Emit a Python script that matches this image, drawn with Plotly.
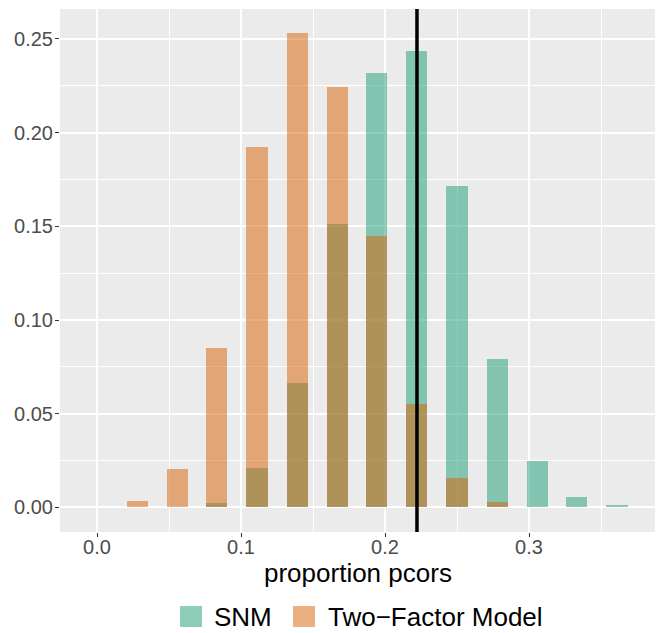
import plotly.graph_objects as go

# ---- data ----
bin_centers = [0.0, 0.0278, 0.0556, 0.0833, 0.1111, 0.1389, 0.1667,
               0.1944, 0.2222, 0.25, 0.2778, 0.3056, 0.3333, 0.3611]
snm = [0.0, 0.0, 0.0, 0.0024, 0.0211, 0.0664, 0.1513,
       0.2319, 0.2436, 0.1716, 0.0791, 0.0248, 0.0056, 0.0013]
two_factor = [0.0005, 0.0035, 0.0207, 0.0851, 0.1922, 0.2532, 0.2244,
              0.1449, 0.0552, 0.0157, 0.0029, 0.0005, 0.0002, 0.0]
observed_value = 0.2222
x_ticks = [0.0, 0.1, 0.2, 0.3]
x_tick_labels = ["0.0", "0.1", "0.2", "0.3"]
y_ticks = [0.0, 0.05, 0.10, 0.15, 0.20, 0.25]
y_tick_labels = ["0.00", "0.05", "0.10", "0.15", "0.20", "0.25"]
series_names = ["SNM", "Two\u2212Factor Model"]

GREEN = "rgba(27,158,119,0.5)"
ORANGE = "rgba(217,95,2,0.5)"
BAR_W = 0.0146
FONT = "Liberation Sans, Arial, sans-serif"

fig = go.Figure()
fig.add_trace(go.Bar(x=bin_centers, y=snm, width=BAR_W, name=series_names[0],
                     marker=dict(color=GREEN, line=dict(width=0)), showlegend=False))
fig.add_trace(go.Bar(x=bin_centers, y=two_factor, width=BAR_W, name=series_names[1],
                     marker=dict(color=ORANGE, line=dict(width=0)), showlegend=False))

fig.add_shape(type="line", xref="x", yref="paper", x0=observed_value, x1=observed_value,
              y0=0, y1=1, line=dict(color="black", width=3.5))

# panel geometry in px: x 60..655, y 9..532
PW, PH = 595.0, 523.0
def px2x(px):
    return (px - 60) / PW
def py2y(py):
    return (532 - py) / PH

# manual legend
keys = [(180, 202, GREEN, 212, series_names[0]), (293, 315, ORANGE, 326, series_names[1])]
for x0, x1, col, tx, label in keys:
    fig.add_shape(type="rect", xref="paper", yref="paper",
                  x0=px2x(x0), x1=px2x(x1), y0=py2y(627), y1=py2y(606),
                  fillcolor=col, line=dict(width=0), layer="above")
    fig.add_annotation(xref="paper", yref="paper", x=px2x(tx), y=py2y(617),
                       text=label, showarrow=False, xanchor="left", yanchor="middle",
                       font=dict(family=FONT, size=26, color="black"))

fig.add_annotation(xref="paper", yref="paper", x=px2x(357.5), y=py2y(573),
                   text="proportion pcors", showarrow=False, xanchor="center",
                   yanchor="middle", font=dict(family=FONT, size=26, color="black"))

fig.update_layout(
    width=656, height=633,
    margin=dict(l=60, r=1, t=9, b=101),
    barmode="overlay",
    bargap=0,
    plot_bgcolor="#EBEBEB",
    paper_bgcolor="white",
    font=dict(family=FONT),
    showlegend=False,
)
fig.update_xaxes(range=[-0.0257, 0.3875], tickmode="array", tickvals=x_ticks,
                 ticktext=x_tick_labels, showgrid=True, gridcolor="white", gridwidth=1.6,
                 zeroline=False, ticks="outside", ticklen=4, tickwidth=1.2,
                 tickcolor="#333333", tickfont=dict(size=20, color="#4D4D4D", family=FONT),
                 ticklabelstandoff=-7,
                 minor=dict(tickmode="array", tickvals=[0.05, 0.15, 0.25, 0.35], showgrid=True,
                            gridcolor="white", gridwidth=0.8, ticks=""),
                 showline=False)
fig.update_yaxes(range=[-0.0131, 0.266], tickmode="array", tickvals=y_ticks,
                 ticktext=y_tick_labels, showgrid=True, gridcolor="white", gridwidth=1.6,
                 zeroline=False, ticks="outside", ticklen=4, tickwidth=1.2,
                 tickcolor="#333333", tickfont=dict(size=20, color="#4D4D4D", family=FONT),
                 ticklabelstandoff=-2,
                 minor=dict(tickmode="array", tickvals=[0.025, 0.075, 0.125, 0.175, 0.225],
                            showgrid=True, gridcolor="white", gridwidth=0.8, ticks=""),
                 showline=False)

fig.write_html("out.html", config={"displayModeBar": False},
               post_script="document.body.style.margin='0';")
